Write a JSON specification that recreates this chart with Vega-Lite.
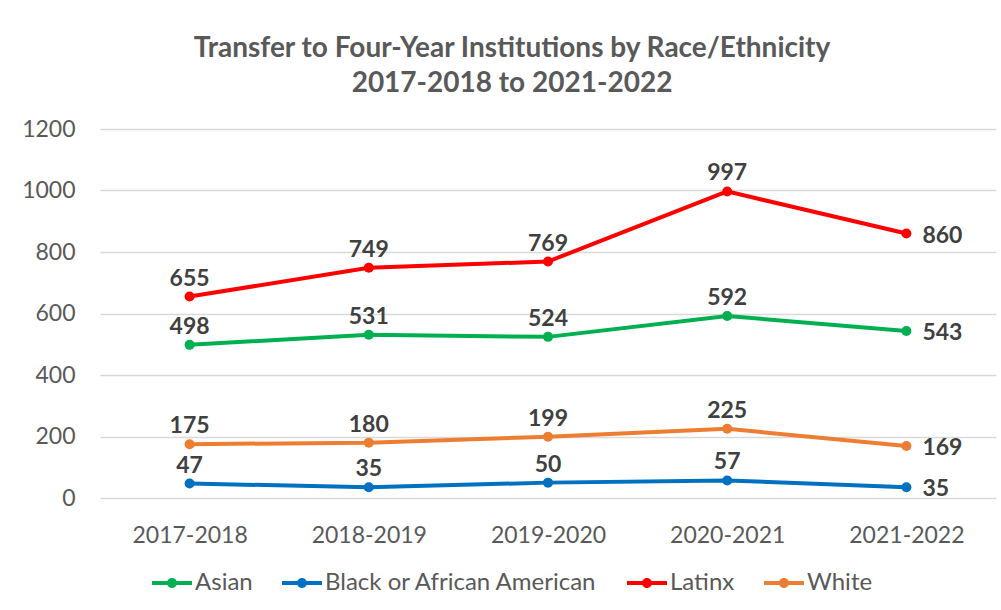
{
  "$schema": "https://vega.github.io/schema/vega-lite/v6.json",
  "width": 896,
  "height": 369,
  "autosize": {"type": "none"},
  "padding": {"left": 100, "top": 129, "right": 5, "bottom": 112},
  "background": "white",
  "title": {
    "text": ["Transfer to Four-Year Institutions by Race/Ethnicity", "2017-2018 to 2021-2022"],
    "font": "Lato",
    "fontSize": 28,
    "fontWeight": "bold",
    "color": "#595959",
    "anchor": "middle",
    "dx": -36,
    "offset": 20,
    "lineHeight": 35
  },
  "data": {
    "values": [
      {"year": "2017-2018", "race": "Asian", "value": 498},
      {"year": "2018-2019", "race": "Asian", "value": 531},
      {"year": "2019-2020", "race": "Asian", "value": 524},
      {"year": "2020-2021", "race": "Asian", "value": 592},
      {"year": "2021-2022", "race": "Asian", "value": 543},
      {"year": "2017-2018", "race": "Black or African American", "value": 47},
      {"year": "2018-2019", "race": "Black or African American", "value": 35},
      {"year": "2019-2020", "race": "Black or African American", "value": 50},
      {"year": "2020-2021", "race": "Black or African American", "value": 57},
      {"year": "2021-2022", "race": "Black or African American", "value": 35},
      {"year": "2017-2018", "race": "Latinx", "value": 655},
      {"year": "2018-2019", "race": "Latinx", "value": 749},
      {"year": "2019-2020", "race": "Latinx", "value": 769},
      {"year": "2020-2021", "race": "Latinx", "value": 997},
      {"year": "2021-2022", "race": "Latinx", "value": 860},
      {"year": "2017-2018", "race": "White", "value": 175},
      {"year": "2018-2019", "race": "White", "value": 180},
      {"year": "2019-2020", "race": "White", "value": 199},
      {"year": "2020-2021", "race": "White", "value": 225},
      {"year": "2021-2022", "race": "White", "value": 169}
    ]
  },
  "encoding": {
    "x": {
      "field": "year",
      "type": "ordinal",
      "sort": null,
      "axis": {
        "title": null,
        "labelAngle": 0,
        "ticks": false,
        "domain": false,
        "grid": false,
        "labelPadding": 26,
        "labelFont": "Lato",
        "labelFontSize": 23,
        "labelColor": "#595959"
      }
    },
    "y": {
      "field": "value",
      "type": "quantitative",
      "scale": {"domain": [0, 1200], "nice": false},
      "axis": {
        "title": null,
        "values": [0, 200, 400, 600, 800, 1000, 1200],
        "format": "d",
        "ticks": false,
        "domain": false,
        "grid": true,
        "gridColor": "#D9D9D9",
        "gridWidth": 1.5,
        "labelPadding": 25,
        "labelFont": "Lato",
        "labelFontSize": 23,
        "labelColor": "#595959"
      }
    }
  },
  "layer": [
    {
      "mark": {"type": "point", "filled": true, "size": 100, "opacity": 1},
      "encoding": {
        "color": {
          "field": "race",
          "type": "nominal",
          "scale": {
            "domain": ["Asian", "Black or African American", "Latinx", "White"],
            "range": ["#00B050", "#0070C0", "#FF0000", "#ED7D31"]
          },
          "legend": {
            "orient": "none",
            "legendX": 52,
            "legendY": 434,
            "direction": "horizontal",
            "title": null,
            "padding": 0,
            "symbolType": "M -1 -0.1 L 1 -0.1 L 1 0.1 L -1 0.1 Z M 0.25 0 A 0.25 0.25 0 1 1 -0.25 0 A 0.25 0.25 0 1 1 0.25 0 Z",
            "symbolSize": 1600,
            "symbolStrokeWidth": 0,
            "symbolOpacity": 1,
            "labelFont": "Lato",
            "labelFontSize": 24,
            "labelColor": "#595959",
            "labelOffset": 3,
            "columnPadding": 29,
            "labelLimit": 400
          }
        }
      }
    },
    {
      "mark": {"type": "line", "strokeWidth": 4},
      "encoding": {
        "color": {"field": "race", "type": "nominal"}
      }
    },
    {
      "transform": [{"filter": "datum.year !== '2021-2022'"}],
      "mark": {
        "type": "text",
        "font": "Lato",
        "fontSize": 23,
        "fontWeight": "bold",
        "color": "#404040",
        "baseline": "middle",
        "dy": -18
      },
      "encoding": {
        "text": {"field": "value", "type": "quantitative"}
      }
    },
    {
      "transform": [{"filter": "datum.year === '2021-2022'"}],
      "mark": {
        "type": "text",
        "font": "Lato",
        "fontSize": 23,
        "fontWeight": "bold",
        "color": "#404040",
        "baseline": "middle",
        "align": "left",
        "dx": 16,
        "dy": 2
      },
      "encoding": {
        "text": {"field": "value", "type": "quantitative"}
      }
    }
  ],
  "config": {
    "view": {"stroke": null}
  }
}
